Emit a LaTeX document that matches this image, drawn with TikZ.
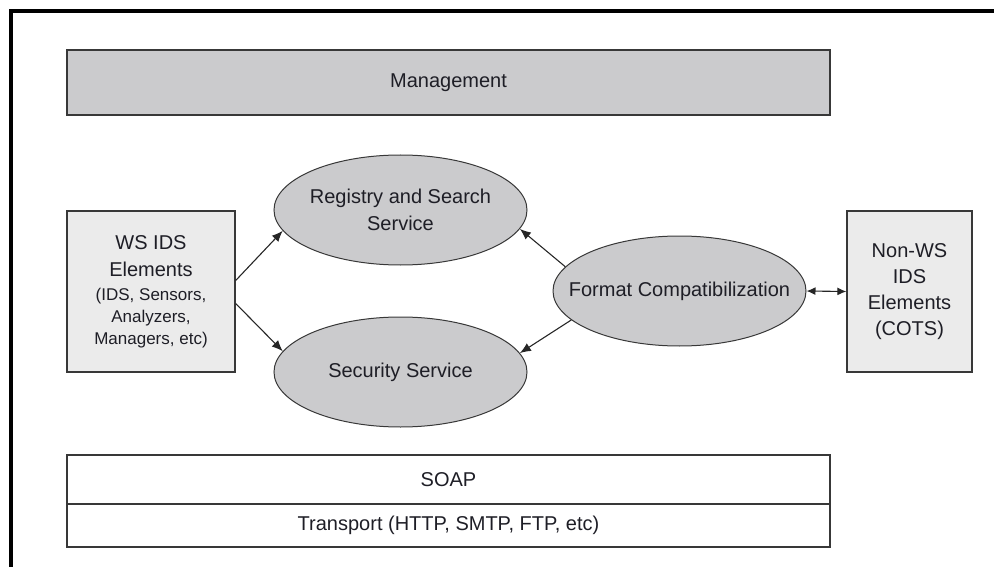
\documentclass[tikz,border=0pt]{standalone}
\usepackage{fontspec}
\setmainfont{Liberation Sans}
\usetikzlibrary{arrows.meta,shapes.geometric}

\definecolor{layergray}{HTML}{CBCBCD}
\definecolor{boxgray}{HTML}{EBEBEB}
\definecolor{edgegray}{HTML}{383838}
\definecolor{inkcol}{HTML}{1E1E26}

\tikzset{
  base/.style={draw=edgegray, line width=1.4pt, inner sep=0pt, text=inkcol,
               font=\fontsize{20}{27}\selectfont, align=center},
  layer/.style={base, rectangle, minimum width=763pt},
  sidebox/.style={base, rectangle, fill=boxgray, minimum height=161pt},
  service/.style={base, ellipse, fill=layergray, line width=1pt,
                  inner xsep=-25pt, minimum width=253pt, minimum height=110pt},
  link/.style={draw=black!85, line width=1.1pt, -{Latex[length=11pt,width=9pt]}},
  dlink/.style={draw=black!85, line width=1.1pt, {Latex[length=9pt,width=8pt]}-{Latex[length=9pt,width=8pt]}},
  frame/.style={draw=black, line width=4pt}
}
\newcommand{\subtxt}{\fontsize{17}{22}\selectfont}

\begin{document}
\begin{tikzpicture}[x=1pt, y=-1pt]
  \useasboundingbox (0,0) rectangle (994,567);

  % outer frame (top and left rules)
  \coordinate (fbl) at (11,567);
  \coordinate (ftl) at (11,11.5);
  \coordinate (ftr) at (994,11.5);
  \draw[frame] (fbl) -- (ftl) -- (ftr);

  % management layer
  \node[layer, fill=layergray, minimum height=65pt, line width=1.8pt] (mgmt) at (448.5,82.5) {Management};

  % protocol layers
  \node[layer, minimum height=49pt] (soap) at (448.5,479.5) {SOAP};
  \node[layer, minimum height=43pt] (transport) at (448.5,525.5) {Transport (HTTP, SMTP, FTP, etc)};

  % element boxes
  \node[sidebox, minimum width=168pt] (ws) at (151,291.5)
    {WS IDS\\Elements\\[-3pt]\subtxt (IDS, Sensors,\\[-5pt]\subtxt Analyzers,\\[-5pt]\subtxt Managers, etc)};
  \node[sidebox, minimum width=125pt] (nonws) at (909.5,291.5)
    {Non-WS\\[-1pt]IDS\\[-1pt]Elements\\[-1pt](COTS)};

  % services
  \node[service] (reg) at (400.5,210) {Registry and Search\\Service};
  \node[service] (sec) at (400.5,372) {Security Service};
  \node[service] (fmt) at (679.5,291) {Format Compatibilization};

  % connectors
  \draw[link] ([yshift=11pt]ws.east) -- (reg.190);
  \draw[link] ([yshift=-12pt]ws.east) -- (sec.170);
  \draw[link] (fmt.168) -- (reg.351);
  \draw[link] (fmt.195) -- (sec.9);
  \draw[dlink] (fmt.east) -- (nonws.west);
\end{tikzpicture}
\end{document}
